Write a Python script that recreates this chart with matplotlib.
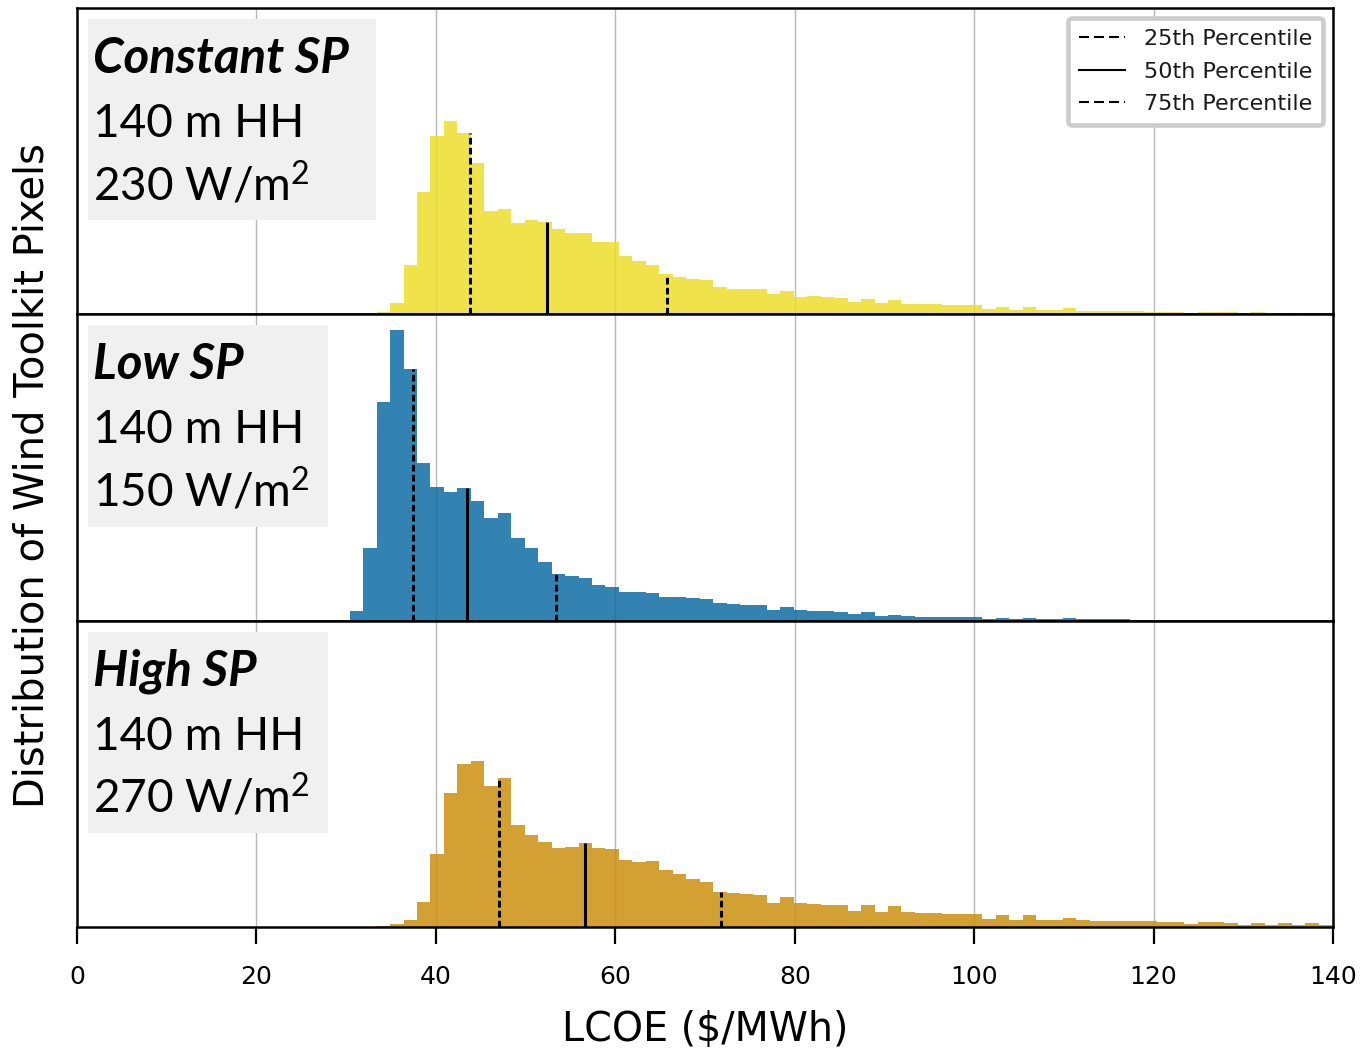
import numpy as np
import matplotlib
matplotlib.use("Agg")
import matplotlib.pyplot as plt
from matplotlib.patches import Rectangle
from matplotlib.lines import Line2D

# ---------------- data ----------------
bin_width = 1.5

const_start = 33.4
const_counts = [2.3, 11.6, 49, 122.3, 178.6, 193, 181.6, 151.3, 103.3, 105.3,
                91.6, 94.3, 92, 85.3, 81.6, 81.6, 72.6, 72.6, 58.3, 53.3,
                49, 40, 37.6, 35.3, 34, 27, 25.7, 25.7, 25.7, 20.3,
                23.3, 17.7, 18.7, 17.7, 16.7, 12, 15.7, 11, 14.7, 10,
                10, 10, 9, 9, 9, 5.7, 7.3, 4.3, 7.3, 4.7,
                4.7, 6.3, 3, 3, 3, 3, 3, 2, 2, 2,
                1, 2, 2, 2, 0, 2, 0, 1, 0, 1]
const_pct = [43.85, 52.4, 65.75]

low_start = 28.9
low_counts = [0.7, 9.7, 72.7, 218.3, 290.3, 251, 157.3, 134, 129, 133,
              120, 103, 107.7, 82.7, 72.7, 58.3, 46.7, 44.7, 42.3, 35.7,
              33.3, 28.7, 28.7, 27.3, 24, 24, 23, 21.7, 17.3, 16.3,
              15.3, 15.3, 10.7, 14, 10.7, 9.7, 9.7, 8.3, 6.3, 8.3,
              5, 6, 5, 4, 4, 4, 4, 4, 1.7, 3,
              1.7, 2.7, 1.7, 1.7, 2.7, 1.7, 1.7, 1.7, 1.7]
low_pct = [37.5, 43.5, 53.35]

high_start = 33.4
high_counts = [1.3, 2.7, 7.3, 25.3, 73.3, 133.7, 162.7, 166, 141.3, 149,
               101.7, 91.7, 85, 79.3, 80.3, 84, 79.3, 78.3, 67.3, 64.7,
               65.7, 56.7, 53.3, 48, 44.7, 35, 34.3, 33, 32.3, 24,
               29.7, 24.3, 23.3, 22, 22, 16, 22, 15, 20.7, 15,
               14, 14, 12.7, 12.7, 12.7, 8.3, 11.7, 7.3, 11.7, 7.3,
               7.3, 9.3, 7.3, 6.3, 6.3, 6.3, 6.3, 6.3, 5, 5,
               3, 5, 5, 4, 1.7, 4, 1.7, 4, 1.7, 4, 1.7]
high_pct = [47.0, 56.6, 71.8]

panel_titles = ["Constant SP", "Low SP", "High SP"]
panel_lines2 = ["140 m HH", "140 m HH", "140 m HH"]
panel_lines3 = ["230 W/m$\\mathregular{^2}$", "150 W/m$\\mathregular{^2}$",
                "270 W/m$\\mathregular{^2}$"]
pct_labels = ["25th Percentile", "50th Percentile", "75th Percentile"]
xticks = [0, 20, 40, 60, 80, 100, 120, 140]

colors = ["#EDDD2B", "#0E6DA4", "#CC8F10"]

# ---------------- figure ----------------
W, H = 1362, 1051
fig = plt.figure(figsize=(W / 100, H / 100), dpi=100)
axes = fig.subplots(3, 1, sharex=True, sharey=True, gridspec_kw=dict(hspace=0))
fig.subplots_adjust(left=77 / W, right=1333 / W, top=1 - 8 / H, bottom=1 - 927 / H)

series = [(const_start, const_counts, const_pct),
          (low_start, low_counts, low_pct),
          (high_start, high_counts, high_pct)]
box_widths = [288, 240, 240]
text_font = "Lato"
pline_w = 2.2
dash_pl = (0, (4.8 / pline_w, 2.4 / pline_w))

for i, (ax, (start, counts, pct)) in enumerate(zip(axes, series)):
    counts = np.asarray(counts, dtype=float)
    edges = start + bin_width * np.arange(len(counts) + 1)
    ax.bar(edges[:-1], counts, width=bin_width, align="edge",
           color=colors[i], alpha=0.85, linewidth=0, zorder=2)
    ax.set_axisbelow(True)
    ax.grid(axis="x", color="#b8b8b8", linewidth=1.0, zorder=0)
    ax.grid(axis="y", visible=False)
    # percentile lines up to the bar height at that value
    styles = [dash_pl, "-", dash_pl]
    for p, ls in zip(pct, styles):
        k = int(np.clip(np.searchsorted(edges, p, side="right") - 1, 0, len(counts) - 1))
        ax.vlines(p, 0, counts[k], colors="black", linestyles=[ls],
                  linewidth=pline_w, zorder=3)
    ax.set_xlim(0, 140)
    ax.set_ylim(0, 306)
    ax.set_xticks(xticks)
    ax.tick_params(axis="y", left=False, labelleft=False)
    for sp in ax.spines.values():
        sp.set_linewidth(1.8)
        sp.set_color("black")
    if i < 2:
        ax.tick_params(axis="x", bottom=False, labelbottom=False)
    else:
        ax.tick_params(axis="x", length=12, width=1.6, labelsize=18, pad=15,
                       colors="black")

    # annotation box
    ax_h_px = 306.0
    bw = box_widths[i] / 1256.0
    ax.add_patch(Rectangle((11 / 1256.0, 1 - 212 / ax_h_px), bw, 201 / ax_h_px,
                           transform=ax.transAxes, facecolor="#f0f0f0",
                           edgecolor="none", zorder=4))
    tx = 16 / 1256.0
    ax.text(tx, 1 - 65 / ax_h_px, panel_titles[i], transform=ax.transAxes,
            fontsize=35.5, fontweight="bold", style="italic", family=text_font,
            va="baseline", ha="left", zorder=5)
    ax.text(tx, 1 - 129 / ax_h_px, panel_lines2[i], transform=ax.transAxes,
            fontsize=33, family=text_font, va="baseline", ha="left", zorder=5)
    ax.text(tx, 1 - 192 / ax_h_px, panel_lines3[i], transform=ax.transAxes,
            fontsize=33, family=text_font, va="baseline", ha="left", zorder=5)

leg_dash = (0, (4.8, 2.4))
handles = [Line2D([], [], color="black", linestyle=leg_dash, linewidth=1.5),
           Line2D([], [], color="black", linestyle="-", linewidth=1.5),
           Line2D([], [], color="black", linestyle=leg_dash, linewidth=1.5)]
leg = axes[0].legend(handles, pct_labels, loc="upper right", fontsize=16,
                     frameon=True, fancybox=True, framealpha=1,
                     edgecolor="#cccccc", handlelength=2.05, handletextpad=0.85,
                     labelspacing=0.56, borderaxespad=0.45, borderpad=0.5)
leg.get_frame().set_linewidth(3.3)
for t in leg.get_texts():
    t.set_color("#1a1a1a")
leg.set_zorder(6)

fig.text(33 / W, 1 - 475 / H, "Distribution of Wind Toolkit Pixels",
         rotation=90, ha="center", va="center", fontsize=28.8)
fig.text(705 / W, 1 - 1030 / H, "LCOE ($/MWh)", ha="center", va="center",
         fontsize=28.5)

fig.savefig("out.png", dpi=100)
